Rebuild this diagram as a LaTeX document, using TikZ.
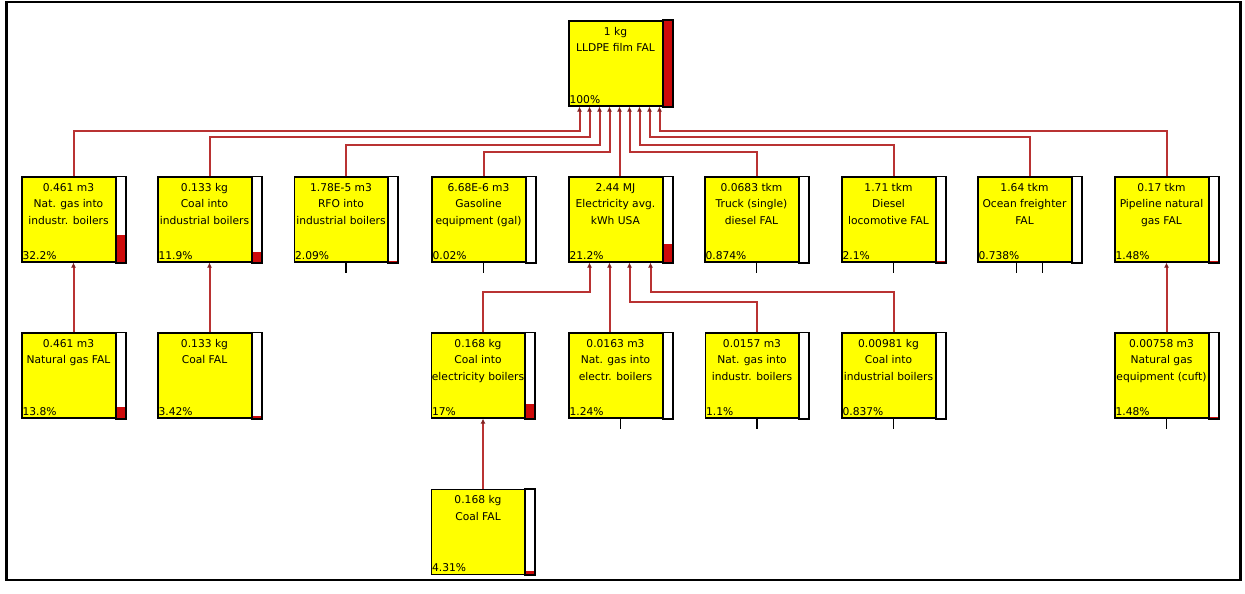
\documentclass[tikz,border=0pt]{standalone}
\usepackage{fontspec}
\setmainfont{DejaVu Sans}
\usetikzlibrary{calc,arrows.meta}
\definecolor{boxyellow}{RGB}{255,255,0}
\definecolor{linkred}{RGB}{185,50,50}
\definecolor{barred}{RGB}{205,10,10}
\tikzset{
  proc/.style={draw=black,line width=1.2pt,fill=boxyellow,minimum width=103,minimum height=85,inner sep=0pt},
  barbox/.style={draw=black,line width=1.8pt},
  share/.style={fill=barred},
  ptext/.style={anchor=north,align=center,inner sep=0pt,font=\fontsize{10.7}{16.5}\selectfont},
  pct/.style={anchor=south west,inner sep=1pt,font=\fontsize{10.7}{12}\selectfont},
  flow/.style={draw=linkred,line width=2pt,-{Latex[length=5pt,width=5pt,color=linkred!70!black]}},
  stub/.style={draw=black,line width=1.3pt}
}
% one process box: name, x, y, text, percentage, bar fraction
\newcommand{\pbox}[6]{%
  \node[proc] (#1) at (#2,#3) {};
  \fill[white] ([xshift=-10pt]#1.north east) rectangle (#1.south east);
  \fill[share] ([xshift=-10pt]#1.south east) rectangle ($(#1.south east)!#6!(#1.north east)$);
  \draw[barbox] ([xshift=-10pt]#1.north east) rectangle (#1.south east);
  \node[ptext] at ([xshift=-5pt,yshift=-6.5pt]#1.north) {#4};
  \node[pct] at ([yshift=2pt]#1.south west) {#5};
}
\begin{document}
\begin{tikzpicture}[x=1pt,y=-1pt]
\useasboundingbox (0,0) rectangle (1245,594);
\draw[line width=2.5pt] (6.5,2) rectangle (1240.5,580);
% top
\pbox{film}{620.5}{63.5}{1 kg\\LLDPE film FAL}{100\%}{1}
% first row
\pbox{natgas}{73.5}{219.5}{0.461 m3\\Nat. gas into\\industr. boilers}{32.2\%}{0.322}
\pbox{coalind}{209.5}{219.5}{0.133 kg\\Coal into\\industrial boilers}{11.9\%}{0.119}
\pbox{rfo}{346}{219.5}{1.78E-5 m3\\RFO into\\industrial boilers}{2.09\%}{0.0209}
\pbox{gasoline}{483.5}{219.5}{6.68E-6 m3\\Gasoline\\equipment (gal)}{0.02\%}{0.0002}
\pbox{elec}{620.5}{219.5}{2.44 MJ\\Electricity avg.\\kWh USA}{21.2\%}{0.212}
\pbox{truck}{756.5}{219.5}{0.0683 tkm\\Truck (single)\\diesel FAL}{0.874\%}{0.00874}
\pbox{loco}{893.5}{219.5}{1.71 tkm\\Diesel\\locomotive FAL}{2.1\%}{0.021}
\pbox{ocean}{1029.5}{219.5}{1.64 tkm\\Ocean freighter\\FAL}{0.738\%}{0.00738}
\pbox{pipe}{1166.5}{219.5}{0.17 tkm\\Pipeline natural\\gas FAL}{1.48\%}{0.0148}
% second row
\pbox{natgasfal}{73.5}{375.5}{0.461 m3\\Natural gas FAL}{13.8\%}{0.138}
\pbox{coalfal}{209.5}{375.5}{0.133 kg\\Coal FAL}{3.42\%}{0.0342}
\pbox{coalelec}{483}{375.5}{0.168 kg\\Coal into\\electricity boilers}{17\%}{0.17}
\pbox{ngelec}{620.5}{375.5}{0.0163 m3\\Nat. gas into\\electr. boilers}{1.24\%}{0.0124}
\pbox{ngind}{757}{375.5}{0.0157 m3\\Nat. gas into\\industr. boilers}{1.1\%}{0.011}
\pbox{coalindb}{893.5}{375.5}{0.00981 kg\\Coal into\\industrial boilers}{0.837\%}{0.00837}
\pbox{ngequip}{1166.5}{375.5}{0.00758 m3\\Natural gas\\equipment (cuft)}{1.48\%}{0.0148}
% third row
\pbox{coalfalb}{483}{532}{0.168 kg\\Coal FAL}{4.31\%}{0.0431}
% links into the film
\draw[flow] (natgas.north) -- ++(0,-45) -| ([xshift=-41pt]film.south);
\draw[flow] (coalind.north) -- ++(0,-39) -| ([xshift=-31pt]film.south);
\draw[flow] (rfo.north) -- ++(0,-31) -| ([xshift=-21pt]film.south);
\draw[flow] (gasoline.north) -- ++(0,-24) -| ([xshift=-11pt]film.south);
\draw[flow] ([xshift=-1pt]elec.north) -- ([xshift=-1pt]film.south);
\draw[flow] (truck.north) -- ++(0,-24) -| ([xshift=9pt]film.south);
\draw[flow] (loco.north) -- ++(0,-31) -| ([xshift=19pt]film.south);
\draw[flow] (ocean.north) -- ++(0,-39) -| ([xshift=29pt]film.south);
\draw[flow] (pipe.north) -- ++(0,-45) -| ([xshift=39pt]film.south);
% links into the second level
\draw[flow] (natgasfal.north) -- (natgas.south);
\draw[flow] (coalfal.north) -- (coalind.south);
\draw[flow] (coalelec.north) -- ++(0,-40) -| ([xshift=-31pt]elec.south);
\draw[flow] ([xshift=-11pt]ngelec.north) -- ([xshift=-11pt]elec.south);
\draw[flow] (ngind.north) -- ++(0,-30) -| ([xshift=9pt]elec.south);
\draw[flow] (coalindb.north) -- ++(0,-40) -| ([xshift=30pt]elec.south);
\draw[flow] (ngequip.north) -- (pipe.south);
\draw[flow] (coalfalb.north) -- (coalelec.south);
% cut-off inputs
\draw[stub] (rfo.south) -- ++(0,10);
\draw[stub] (gasoline.south) -- ++(0,10);
\draw[stub] (truck.south) -- ++(0,10);
\draw[stub] (loco.south) -- ++(0,10);
\draw[stub] ([xshift=-13pt]ocean.south) -- ++(0,10);
\draw[stub] ([xshift=13pt]ocean.south) -- ++(0,10);
\draw[stub] (ngelec.south) -- ++(0,10);
\draw[stub] (ngind.south) -- ++(0,10);
\draw[stub] (coalindb.south) -- ++(0,10);
\draw[stub] (ngequip.south) -- ++(0,10);
\end{tikzpicture}
\end{document}
